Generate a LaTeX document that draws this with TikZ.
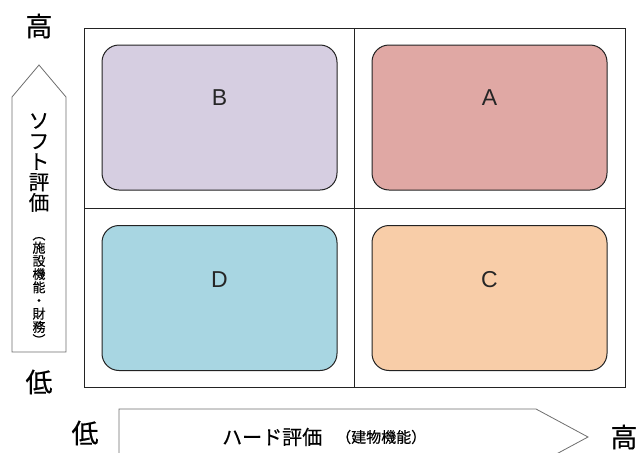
\documentclass[tikz,border=0pt]{standalone}
\usepackage{fontspec}
\setmainfont{Liberation Sans}
\newfontfamily\jp[FakeBold=0.4]{Noto Sans CJK JP}
\definecolor{colA}{RGB}{224,168,164}
\definecolor{colB}{RGB}{214,206,225}
\definecolor{colC}{RGB}{248,205,168}
\definecolor{colD}{RGB}{168,214,226}
\definecolor{linec}{RGB}{35,35,35}
\definecolor{arrc}{RGB}{110,110,110}
\tikzset{
  box/.style={draw=linec, line width=1.0pt, rounded corners=17pt, minimum width=235pt, minimum height=145pt, inner sep=0pt},
  lettr/.style={font=\fontsize{23}{23}\selectfont, text=black!85, inner sep=0pt},
  frame/.style={draw=linec, line width=1.0pt},
  bigarrow/.style={draw=arrc, line width=0.8pt, fill=white},
  hl/.style={font=\jp\fontsize{27}{27}\selectfont, inner sep=0pt},
  vtxt/.style={font=\jp\fontsize{20.5}{20.5}\selectfont, align=center, inner sep=0pt},
  vsub/.style={font=\jp\fontsize{13}{13.2}\selectfont, align=center, inner sep=0pt},
  htxt/.style={font=\jp\fontsize{20}{20}\selectfont, inner sep=0pt, anchor=west},
  hsub/.style={font=\jp\fontsize{15}{15}\selectfont, inner sep=0pt, anchor=west}
}
\begin{document}
\begin{tikzpicture}[x=1pt,y=-1pt]
\useasboundingbox (0,0) rectangle (641,453);
% frame
\draw[frame] (84,28) rectangle (625,387);
\draw[frame] (354,28) -- (354,387);
\draw[frame] (84,208) -- (625,208);
% boxes
\node[box, fill=colB] (B) at (219.5,117.5) {};
\node[box, fill=colA] (A) at (489.5,117.5) {};
\node[box, fill=colD] (D) at (219.5,298) {};
\node[box, fill=colC] (C) at (489.5,298) {};
\node[lettr] (Bl) at (219.5,98) {B};
\node[lettr] (Al) at (489.5,98) {A};
\node[lettr] (Dl) at (219.5,280) {D};
\node[lettr] (Cl) at (489.5,280) {C};
% vertical arrow
\draw[bigarrow] (12,97) -- (39,65) -- (66,97) -- (66,352) -- (12,352) -- cycle;
\node[vtxt] (soft) at (39,162.5) {ソ\\フ\\ト\\評\\価};
\node[vsub] (softsub) at (39,291) {︵\\施\\設\\機\\能\\・\\財\\務\\︶};
\node[hl] (vhigh) at (39,26) {高};
\node[hl] (vlow) at (39,382) {低};
% horizontal arrow
\draw[bigarrow] (119,409) -- (536,409) -- (588,437) -- (536,465) -- (119,465) -- cycle;
\node[htxt] (hard) at (222,437) {ハード評価};
\node[hsub] (hardsub) at (336,437) {（建物機能）};
\node[hl] (hlow) at (85,433) {低};
\node[hl] (hhigh) at (624,437) {高};
\end{tikzpicture}
\end{document}
